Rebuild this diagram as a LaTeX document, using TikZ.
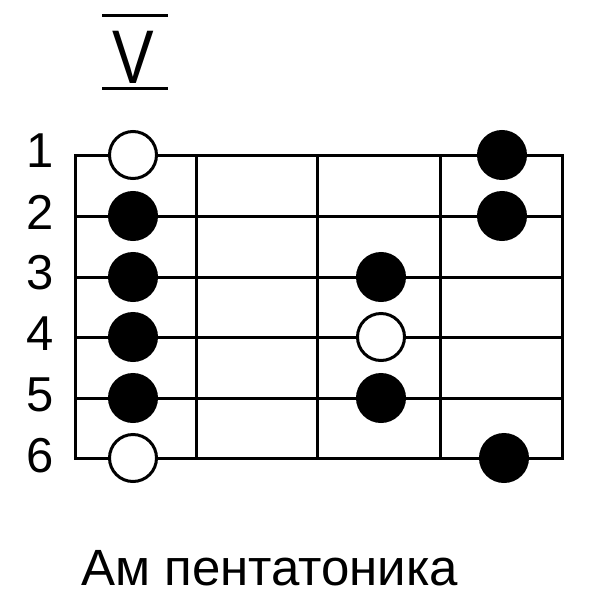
\documentclass[tikz,border=0pt]{standalone}
\usepackage{fontspec}
\setmainfont{Liberation Sans}
\begin{document}
\begin{tikzpicture}[x=1pt,y=-1pt]
% escala da pentatonica, quinta posicao
  \tikzset{Cheia/.style  = {circle, draw, line width=3pt, fill=black,
                            minimum size=47pt, inner sep=0pt},
           Vazia/.style  = {Cheia, fill=white},
           Corda/.style  = {line width=3pt},
           Numero/.style = {font=\fontsize{49}{49}\selectfont, inner sep=0pt}}
\useasboundingbox (0,0) rectangle (600,614);

% posicao
\node[inner sep=0pt, font=\fontsize{76}{76}\selectfont] (casa) at (133,57) {\scalebox{0.82}[1]{V}};
\draw[Corda] (102,15) -- (168,15);
\draw[Corda] (102,88) -- (168,88);

% grade
\draw[Corda] (75,155) rectangle (562,458);
\foreach \y in {216,277,337,398}
  \draw[Corda] (75,\y) -- (562,\y);
\foreach \x in {196,317,440}
  \draw[Corda] (\x,155) -- (\x,458);

% cordas
\node[Numero] (c1) at (40,151) {1};
\node[Numero] (c2) at (40,212) {2};
\node[Numero] (c3) at (40,273) {3};
\node[Numero] (c4) at (40,334) {4};
\node[Numero] (c5) at (40,395) {5};
\node[Numero] (c6) at (40,456) {6};

% notas
\node[Vazia] (n1a) at (133,155) {};
\node[Cheia] (n2a) at (133,216) {};
\node[Cheia] (n3a) at (133,277) {};
\node[Cheia] (n4a) at (133,337) {};
\node[Cheia] (n5a) at (133,398) {};
\node[Vazia] (n6a) at (133,458) {};
\node[Cheia] (n3b) at (381,277) {};
\node[Vazia] (n4b) at (381,337) {};
\node[Cheia] (n5b) at (381,398) {};
\node[Cheia] (n1c) at (502,155) {};
\node[Cheia] (n2c) at (502,216) {};
\node[Cheia] (n6c) at (504,458) {};

% legenda
\node[Numero, font=\fontsize{51}{51}\selectfont, anchor=base west] (nome) at (81,585) {Ам пентатоника};

\end{tikzpicture}
\end{document}
